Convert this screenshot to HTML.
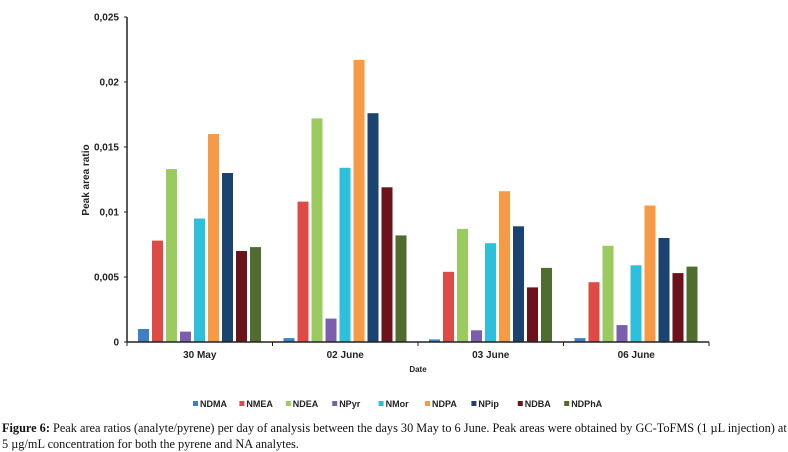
<!DOCTYPE html>
<html><head><meta charset="utf-8"><style>
body{margin:0;width:788px;height:450px;background:#fff;overflow:hidden}
svg text{font-family:"Liberation Sans",Arial,sans-serif}
.cap{position:absolute;left:2px;top:420px;width:786px;font-family:"Liberation Serif",serif;font-size:12.3px;line-height:16px;color:#111}
</style></head><body>
<svg id="chart" width="788" height="418" style="position:absolute;left:0;top:0"></svg>
<div class="cap"><b>Figure 6:</b> Peak area ratios (analyte/pyrene) per day of analysis between the days 30 May to 6 June. Peak areas were obtained by GC-ToFMS (1 µL injection) at 5 µg/mL concentration for both the pyrene and NA analytes.</div>
<script>
const categories=["30 May","02 June","03 June","06 June"];
const seriesNames=["NDMA","NMEA","NDEA","NPyr","NMor","NDPA","NPip","NDBA","NDPhA"];
const colors=["#3f7fc8","#de4b47","#9bcb5f","#7b5fac","#2ebfdc","#f79a45","#1a4371","#6b121b","#4e6d2f"];
const NDMA=[0.001,0.0003,0.0002,0.0003];
const NMEA=[0.0078,0.0108,0.0054,0.0046];
const NDEA=[0.0133,0.0172,0.0087,0.0074];
const NPyr=[0.0008,0.0018,0.0009,0.0013];
const NMor=[0.0095,0.0134,0.0076,0.0059];
const NDPA=[0.016,0.0217,0.0116,0.0105];
const NPip=[0.013,0.0176,0.0089,0.008];
const NDBA=[0.007,0.0119,0.0042,0.0053];
const NDPhA=[0.0073,0.0082,0.0057,0.0058];
const series=[NDMA,NMEA,NDEA,NPyr,NMor,NDPA,NPip,NDBA,NDPhA];
const yTicks=[0,0.005,0.01,0.015,0.02,0.025];
const yTickLabels=["0","0,005","0,01","0,015","0,02","0,025"];

const svg=document.getElementById('chart');
const NS='http://www.w3.org/2000/svg';
const X0=127,X1=709,Y0=342,Y1=17,YMAX=0.025;
const gw=(X1-X0)/categories.length;
const y=v=>Y0-(v/YMAX)*(Y0-Y1);
const x=(g,s)=>X0+g*gw+11+s*14;
function mk(t,a,txt){const e=document.createElementNS(NS,t);for(const k in a)e.setAttribute(k,a[k]);if(txt!==undefined)e.textContent=txt;svg.appendChild(e);return e;}
series.forEach((vals,s)=>{vals.forEach((v,g)=>{
  const r=mk('rect',{x:x(g,s),y:y(v),width:11,height:Y0-y(v),fill:colors[s]});
  
  
});});
let ax=mk('line',{x1:X0,y1:Y1,x2:X0,y2:Y0,stroke:'#222','stroke-width':1.5});


ax=mk('line',{x1:X0,y1:Y0,x2:X1,y2:Y0,stroke:'#222','stroke-width':1.5});


yTicks.forEach((t,i)=>{
  mk('line',{x1:X0-3,y1:y(t),x2:X0,y2:y(t),stroke:'#222'});
  const l=mk('text',{x:X0-8,y:y(t)+3.5,'text-anchor':'end','font-size':10,'font-weight':'bold',fill:'#222'},yTickLabels[i]);
  
  
});
for(let g=0;g<=categories.length;g++)mk('line',{x1:X0+g*gw,y1:Y0,x2:X0+g*gw,y2:Y0+4,stroke:'#222'});
categories.forEach((c,g)=>{
  const l=mk('text',{x:X0+g*gw+gw/2,y:358,'text-anchor':'middle','font-size':10,'font-weight':'bold',fill:'#222'},c);
  
  
});
let t=mk('text',{x:418,y:372,'text-anchor':'middle','font-size':8,'font-weight':'bold',fill:'#222'},'Date');


t=mk('text',{x:0,y:0,transform:'translate(89,180) rotate(-90)','text-anchor':'middle','font-size':10,'font-weight':'bold',fill:'#222'},'Peak area ratio');


let lx=193;
seriesNames.forEach((n,s)=>{
  const g=document.createElementNS(NS,'g');
  
  
  const r=document.createElementNS(NS,'rect');
  r.setAttribute('x',lx);r.setAttribute('y',401);r.setAttribute('width',5);r.setAttribute('height',5);r.setAttribute('fill',colors[s]);
  const tx=document.createElementNS(NS,'text');
  tx.setAttribute('x',lx+7);tx.setAttribute('y',407);tx.setAttribute('font-size',9);tx.setAttribute('font-weight','bold');tx.setAttribute('fill','#222');
  tx.textContent=n;
  g.appendChild(r);g.appendChild(tx);svg.appendChild(g);
  lx+=7+n.length*6.6+13;
});
</script>
</body></html>
